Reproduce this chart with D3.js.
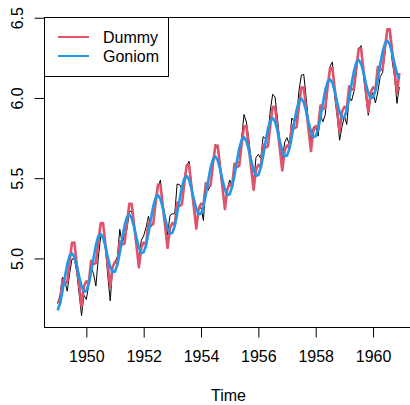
<!DOCTYPE html>
<html>
<head>
<meta charset="utf-8">
<script src="https://cdn.jsdelivr.net/npm/d3@7"></script>
<style>
  body { margin: 0; background: #fff; }
  svg { display: block; font-family: "Liberation Sans", Arial, sans-serif; }
</style>
</head>
<body>
<svg id="chart" width="410" height="405"></svg>
<script>
// log(AirPassengers), one row per year, Jan..Dec
const years = [1949, 1950, 1951, 1952, 1953, 1954, 1955, 1956, 1957, 1958, 1959, 1960]

const logAir = [
  [4.7185, 4.7707, 4.8828, 4.8598, 4.7958, 4.9053, 4.9972, 4.9972, 4.9127, 4.7791, 4.6444, 4.7707],
  [4.7449, 4.8363, 4.9488, 4.9053, 4.8283, 5.0039, 5.1358, 5.1358, 5.0626, 4.8904, 4.7362, 4.9416],
  [4.9767, 5.0106, 5.1818, 5.0938, 5.1475, 5.1818, 5.2933, 5.2933, 5.2149, 5.0876, 4.9836, 5.1120],
  [5.1417, 5.1930, 5.2627, 5.1985, 5.2095, 5.3845, 5.4381, 5.4889, 5.3423, 5.2523, 5.1475, 5.2679],
  [5.2781, 5.2781, 5.4638, 5.4596, 5.4337, 5.4931, 5.5759, 5.6058, 5.4681, 5.3519, 5.1930, 5.3033],
  [5.3181, 5.2364, 5.4596, 5.4250, 5.4553, 5.5759, 5.7104, 5.6802, 5.5568, 5.4337, 5.3132, 5.4337],
  [5.4889, 5.4510, 5.5872, 5.5947, 5.5984, 5.7526, 5.8972, 5.8493, 5.7430, 5.6131, 5.4681, 5.6276],
  [5.6490, 5.6240, 5.7589, 5.7462, 5.7621, 5.9243, 6.0234, 6.0039, 5.8721, 5.7236, 5.6021, 5.7236],
  [5.7526, 5.7071, 5.8749, 5.8522, 5.8721, 6.0450, 6.1420, 6.1463, 6.0014, 5.8493, 5.7203, 5.8171],
  [5.8289, 5.7621, 5.8916, 5.8522, 5.8944, 6.0753, 6.1964, 6.2246, 6.0014, 5.8833, 5.7366, 5.8201],
  [5.8861, 5.8348, 6.0064, 5.9814, 6.0403, 6.1570, 6.3063, 6.3262, 6.1377, 6.0088, 5.8916, 6.0039],
  [6.0331, 5.9687, 6.0379, 6.1334, 6.1570, 6.2823, 6.4329, 6.4069, 6.2305, 6.1334, 5.9661, 6.0684]
]

// fitted values, trend + monthly dummies
const dummyFit = [
  [4.737, 4.725, 4.865, 4.844, 4.852, 4.984, 5.098, 5.099, 4.964, 4.836, 4.702, 4.826],
  [4.858, 4.846, 4.986, 4.965, 4.973, 5.105, 5.219, 5.220, 5.085, 4.957, 4.823, 4.947],
  [4.979, 4.967, 5.107, 5.086, 5.093, 5.226, 5.340, 5.340, 5.206, 5.078, 4.944, 5.068],
  [5.099, 5.087, 5.228, 5.206, 5.214, 5.346, 5.460, 5.461, 5.327, 5.198, 5.065, 5.189],
  [5.220, 5.208, 5.348, 5.327, 5.335, 5.467, 5.581, 5.582, 5.447, 5.319, 5.186, 5.310],
  [5.341, 5.329, 5.469, 5.448, 5.456, 5.588, 5.702, 5.703, 5.568, 5.440, 5.307, 5.430],
  [5.462, 5.450, 5.590, 5.569, 5.577, 5.709, 5.823, 5.824, 5.689, 5.561, 5.427, 5.551],
  [5.583, 5.571, 5.711, 5.690, 5.698, 5.830, 5.944, 5.945, 5.810, 5.682, 5.548, 5.672],
  [5.704, 5.692, 5.832, 5.811, 5.818, 5.951, 6.065, 6.065, 5.931, 5.803, 5.669, 5.793],
  [5.824, 5.812, 5.953, 5.931, 5.939, 6.071, 6.185, 6.186, 6.052, 5.923, 5.790, 5.914],
  [5.945, 5.933, 6.073, 6.052, 6.060, 6.192, 6.306, 6.307, 6.172, 6.044, 5.911, 6.035],
  [6.066, 6.054, 6.194, 6.173, 6.181, 6.313, 6.427, 6.428, 6.293, 6.165, 6.032, 6.155]
]

// fitted values, trend + first harmonic
const goniomFit = [
  [4.677, 4.721, 4.795, 4.883, 4.963, 5.017, 5.032, 5.009, 4.954, 4.887, 4.827, 4.793],
  [4.798, 4.841, 4.916, 5.003, 5.083, 5.137, 5.153, 5.129, 5.075, 5.007, 4.947, 4.914],
  [4.918, 4.962, 5.036, 5.124, 5.204, 5.258, 5.273, 5.250, 5.195, 5.128, 5.068, 5.034],
  [5.038, 5.082, 5.157, 5.244, 5.324, 5.378, 5.394, 5.370, 5.316, 5.248, 5.188, 5.155],
  [5.159, 5.203, 5.277, 5.364, 5.445, 5.498, 5.514, 5.490, 5.436, 5.369, 5.309, 5.275],
  [5.279, 5.323, 5.397, 5.485, 5.565, 5.619, 5.635, 5.611, 5.557, 5.489, 5.429, 5.395],
  [5.400, 5.444, 5.518, 5.605, 5.685, 5.739, 5.755, 5.731, 5.677, 5.610, 5.550, 5.516],
  [5.520, 5.564, 5.638, 5.726, 5.806, 5.860, 5.875, 5.852, 5.797, 5.730, 5.670, 5.636],
  [5.641, 5.684, 5.759, 5.846, 5.926, 5.980, 5.996, 5.972, 5.918, 5.850, 5.790, 5.757],
  [5.761, 5.805, 5.879, 5.967, 6.047, 6.101, 6.116, 6.093, 6.038, 5.971, 5.911, 5.877],
  [5.881, 5.925, 6.000, 6.087, 6.167, 6.221, 6.237, 6.213, 6.159, 6.091, 6.031, 5.998],
  [6.002, 6.046, 6.120, 6.208, 6.288, 6.341, 6.357, 6.333, 6.279, 6.212, 6.152, 6.118]
]

const xTicks = [1950, 1952, 1954, 1956, 1958, 1960]
const yTicks = [5.0, 5.5, 6.0, 6.5]
const seriesNames = ["Dummy", "Goniom"]
const seriesColors = ["#DF536B", "#2297E6"]

// turn a year-by-month table into points on the time axis
function toPoints(table) {
  var pts = []
  table.forEach(function(row, i) {
    row.forEach(function(v, m) {
      pts.push({ t: years[i] + m / 12, v: v })
    })
  })
  return pts
}

var airPts = toPoints(logAir)
var dummyPts = toPoints(dummyFit)
var goniomPts = toPoints(goniomFit)

var margin = { top: 17, right: -3, bottom: 78, left: 44 }
var W = 410, H = 405

var svg = d3.select("#chart")

// R style: 4% padding around the data range
var tMin = d3.min(airPts, d => d.t), tMax = d3.max(airPts, d => d.t)
var vMin = d3.min(airPts, d => d.v), vMax = d3.max(airPts, d => d.v)
var tPad = (tMax - tMin) * 0.04, vPad = (vMax - vMin) * 0.04

var x = d3.scaleLinear()
  .domain([tMin - tPad, tMax + tPad])
  .range([margin.left, W - margin.right])

var y = d3.scaleLinear()
  .domain([vMin - vPad, vMax + vPad])
  .range([H - margin.bottom, margin.top])

var line = d3.line()
  .x(d => x(d.t))
  .y(d => y(d.v))

svg.append("path")
  .datum(airPts)
  .attr("d", line)
  .attr("fill", "none")
  .attr("stroke", "#000")
  .attr("stroke-width", 1)

svg.append("path")
  .datum(dummyPts)
  .attr("d", line)
  .attr("fill", "none")
  .attr("stroke", seriesColors[0])
  .attr("stroke-width", 2.6)
  .attr("stroke-linejoin", "round")

svg.append("path")
  .datum(goniomPts)
  .attr("d", line)
  .attr("fill", "none")
  .attr("stroke", seriesColors[1])
  .attr("stroke-width", 2.6)
  .attr("stroke-linejoin", "round")

// plot box
svg.append("rect")
  .attr("x", margin.left + 0.5)
  .attr("y", margin.top + 0.5)
  .attr("width", W - margin.right - margin.left)
  .attr("height", H - margin.bottom - margin.top)
  .attr("fill", "none")
  .attr("stroke", "#000")

// x axis
var xAxis = svg.append("g")
  .attr("transform", "translate(0," + (H - margin.bottom + 0.5) + ")")
  .call(d3.axisBottom(x).tickValues(xTicks).tickFormat(d3.format("d")).tickSize(10).tickPadding(13))
xAxis.select(".domain").remove()
xAxis.selectAll("text").style("font-size", "16px").attr("fill", "#000")
  .style("font-family", "Liberation Sans, Arial, sans-serif")

// y axis
var yAxis = svg.append("g")
  .attr("transform", "translate(" + (margin.left + 0.5) + ",0)")
  .call(d3.axisLeft(y).tickValues(yTicks).tickFormat(d3.format(".1f")).tickSize(10))
yAxis.select(".domain").remove()
yAxis.selectAll("text")
  .attr("x", null).attr("dy", null)
  .attr("text-anchor", "middle")
  .attr("transform", "translate(-22,0) rotate(-90)")
  .style("font-size", "16px").attr("fill", "#000")
  .style("font-family", "Liberation Sans, Arial, sans-serif")

svg.append("text")
  .attr("x", (margin.left + W - margin.right) / 2)
  .attr("y", 401)
  .attr("text-anchor", "middle")
  .style("font-size", "16px")
  .text("Time")

// legend
var legend = svg.append("g")
legend.append("rect")
  .attr("x", margin.left + 0.5).attr("y", margin.top + 0.5)
  .attr("width", 124).attr("height", 59)
  .attr("fill", "#fff").attr("stroke", "#000")

seriesNames.forEach(function(name, i) {
  var ly = 37 + i * 19
  legend.append("line")
    .attr("x1", 58).attr("x2", 89)
    .attr("y1", ly).attr("y2", ly)
    .attr("stroke", seriesColors[i])
    .attr("stroke-width", 2)
  legend.append("text")
    .attr("x", 103).attr("y", ly + 6)
    .style("font-size", "16px")
    .text(name)
})
</script>
</body>
</html>
